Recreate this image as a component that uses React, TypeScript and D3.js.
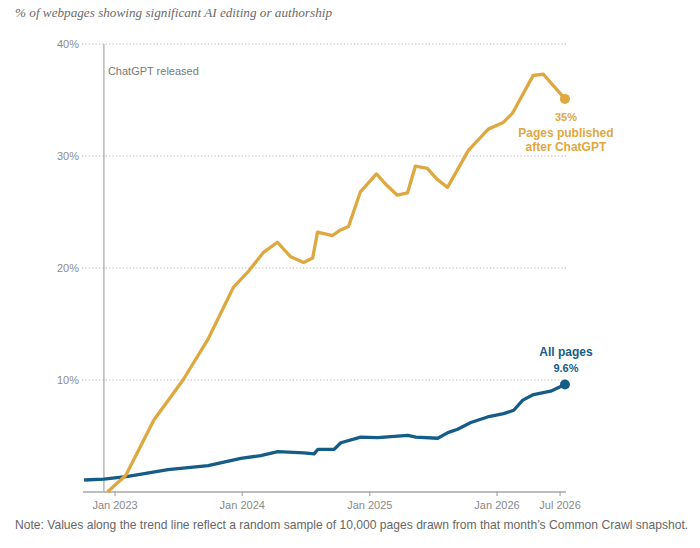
import React, { useEffect, useRef } from 'react';
import * as d3 from 'd3';

// Pages published after ChatGPT (% with significant AI editing / authorship)
const afterDates = [
  '2022-12-10', '2023-02-01', '2023-04-22', '2023-07-15', '2023-09-24', '2023-12-07',
  '2024-01-16', '2024-03-02', '2024-04-11', '2024-05-19', '2024-06-25', '2024-07-21',
  '2024-08-04', '2024-09-16', '2024-10-09', '2024-11-01', '2024-12-05', '2025-01-20',
  '2025-02-15', '2025-03-21', '2025-04-19', '2025-05-12', '2025-06-15', '2025-07-14',
  '2025-08-12', '2025-10-11', '2025-12-07', '2026-01-19', '2026-02-14', '2026-04-15',
  '2026-05-14', '2026-07-15',
];
const afterValues = [
  0, 1.5, 6.4, 10.0, 13.6, 18.3,
  19.6, 21.4, 22.3, 21.0, 20.5, 20.9,
  23.2, 22.9, 23.4, 23.7, 26.8, 28.4,
  27.5, 26.5, 26.7, 29.1, 28.9, 27.9,
  27.2, 30.5, 32.4, 33.0, 33.8, 37.2,
  37.3, 35.1,
];

// All pages
const allDates = [
  '2022-10-04', '2022-11-30', '2023-02-07', '2023-06-02', '2023-09-25', '2023-12-28',
  '2024-02-23', '2024-04-12', '2024-06-26', '2024-07-25', '2024-08-05', '2024-09-20',
  '2024-10-10', '2024-12-06', '2025-01-24', '2025-04-20', '2025-05-13', '2025-07-15',
  '2025-08-13', '2025-09-10', '2025-10-18', '2025-12-05', '2026-01-20', '2026-02-18',
  '2026-03-16', '2026-04-16', '2026-06-04', '2026-07-15',
];
const allValues = [
  1.07, 1.15, 1.4, 2.0, 2.35, 3.0,
  3.25, 3.6, 3.5, 3.4, 3.8, 3.8,
  4.4, 4.9, 4.85, 5.05, 4.9, 4.8,
  5.3, 5.6, 6.2, 6.7, 7.0, 7.3,
  8.2, 8.7, 9.0, 9.6,
];

const yTicks = [10, 20, 30, 40];
const xTickDates = ['2023-01-01', '2024-01-01', '2025-01-01', '2026-01-01', '2026-07-01'];
const xTickLabels = ['Jan 2023', 'Jan 2024', 'Jan 2025', 'Jan 2026', 'Jul 2026'];
const chatgptDate = '2022-11-30';
const xDomain = ['2022-10-01', '2026-07-18'];

const YELLOW = '#DFA73F';
const BLUE = '#155C87';
const GRAY = '#8a8a8a';

const App = () => {
  const ref = useRef(null);

  useEffect(() => {
    document.body.style.margin = '0';
    draw();
  }, []);

  const draw = () => {
    const svg = d3.select(ref.current);
    svg.selectAll('*').remove();

    const parse = d3.timeParse('%Y-%m-%d');
    const x = d3.scaleTime()
      .domain(xDomain.map(d => parse(d)))
      .range([83, 566]);
    const y = d3.scaleLinear().domain([0, 40]).range([492, 44]);

    // title
    svg.append('text')
      .attr('x', 15).attr('y', 17)
      .attr('font-family', 'Liberation Serif, serif')
      .attr('font-style', 'italic')
      .attr('font-size', 13.2)
      .attr('fill', '#6b6b6b')
      .text('% of webpages showing significant AI editing or authorship');

    // gridlines + y labels
    yTicks.forEach(t => {
      svg.append('line')
        .attr('x1', 82).attr('x2', 566)
        .attr('y1', y(t)).attr('y2', y(t))
        .attr('stroke', '#b5b5b5')
        .attr('stroke-width', 1)
        .attr('stroke-dasharray', '1.2,2.2');
      svg.append('text')
        .attr('x', 79).attr('y', y(t) + 4)
        .attr('text-anchor', 'end')
        .attr('font-family', 'Liberation Sans, Arial, sans-serif')
        .attr('font-size', 11)
        .attr('fill', GRAY)
        .text(t + '%');
    });

    // ChatGPT release marker
    const cx = x(parse(chatgptDate));
    svg.append('line')
      .attr('x1', cx).attr('x2', cx)
      .attr('y1', y(40)).attr('y2', y(0))
      .attr('stroke', '#a5a5a5')
      .attr('stroke-width', 1.2);
    svg.append('text')
      .attr('x', cx + 4).attr('y', 75)
      .attr('font-family', 'Liberation Sans, Arial, sans-serif')
      .attr('font-size', 11)
      .attr('fill', '#7a7a7a')
      .text('ChatGPT released');

    // x axis
    svg.append('line')
      .attr('x1', 83).attr('x2', 566)
      .attr('y1', y(0)).attr('y2', y(0))
      .attr('stroke', '#a8a8a8')
      .attr('stroke-width', 1.5);
    xTickDates.forEach((d, i) => {
      const tx = x(parse(d));
      svg.append('line')
        .attr('x1', tx).attr('x2', tx)
        .attr('y1', y(0) - 1).attr('y2', y(0) + 4)
        .attr('stroke', '#a8a8a8')
        .attr('stroke-width', 1.2);
      svg.append('text')
        .attr('x', tx).attr('y', 509)
        .attr('text-anchor', 'middle')
        .attr('font-family', 'Liberation Sans, Arial, sans-serif')
        .attr('font-size', 11)
        .attr('fill', GRAY)
        .text(xTickLabels[i]);
    });

    const line = d3.line()
      .x(d => x(d[0]))
      .y(d => y(d[1]))
      .curve(d3.curveLinear);

    const allPts = allDates.map((d, i) => [parse(d), allValues[i]]);
    const afterPts = afterDates.map((d, i) => [parse(d), afterValues[i]]);

    svg.append('path')
      .attr('d', line(allPts))
      .attr('fill', 'none')
      .attr('stroke', BLUE)
      .attr('stroke-width', 3.3)
      .attr('stroke-linejoin', 'round');

    svg.append('path')
      .attr('d', line(afterPts))
      .attr('fill', 'none')
      .attr('stroke', YELLOW)
      .attr('stroke-width', 3.3)
      .attr('stroke-linejoin', 'round');

    // end points
    const lastAll = allPts[allPts.length - 1];
    const lastAfter = afterPts[afterPts.length - 1];
    svg.append('circle')
      .attr('cx', x(lastAll[0])).attr('cy', y(lastAll[1])).attr('r', 5)
      .attr('fill', BLUE);
    svg.append('circle')
      .attr('cx', x(lastAfter[0])).attr('cy', y(lastAfter[1])).attr('r', 5)
      .attr('fill', YELLOW);

    // labels
    const lx = x(lastAfter[0]) + 1;
    const lab = (txt, yy, color, size) => svg.append('text')
      .attr('x', lx).attr('y', yy)
      .attr('text-anchor', 'middle')
      .attr('font-family', 'Liberation Sans, Arial, sans-serif')
      .attr('font-weight', 'bold')
      .attr('font-size', size)
      .attr('fill', color)
      .text(txt);

    lab(d3.format('.0f')(lastAfter[1]) + '%', 121, YELLOW, 11);
    lab('Pages published', 137, YELLOW, 12);
    lab('after ChatGPT', 151, YELLOW, 12);
    lab('All pages', 356, BLUE, 12);
    lab(lastAll[1] + '%', 372, BLUE, 11);

    // note
    svg.append('text')
      .attr('x', 15).attr('y', 529)
      .attr('font-family', 'Liberation Sans, Arial, sans-serif')
      .attr('font-size', 12.1)
      .attr('fill', '#666')
      .text('Note: Values along the trend line reflect a random sample of 10,000 pages drawn from that month\u2019s Common Crawl snapshot.');
  };

  return <svg ref={ref} width="700" height="548" style={{ display: 'block' }}></svg>;
};

export default App;
